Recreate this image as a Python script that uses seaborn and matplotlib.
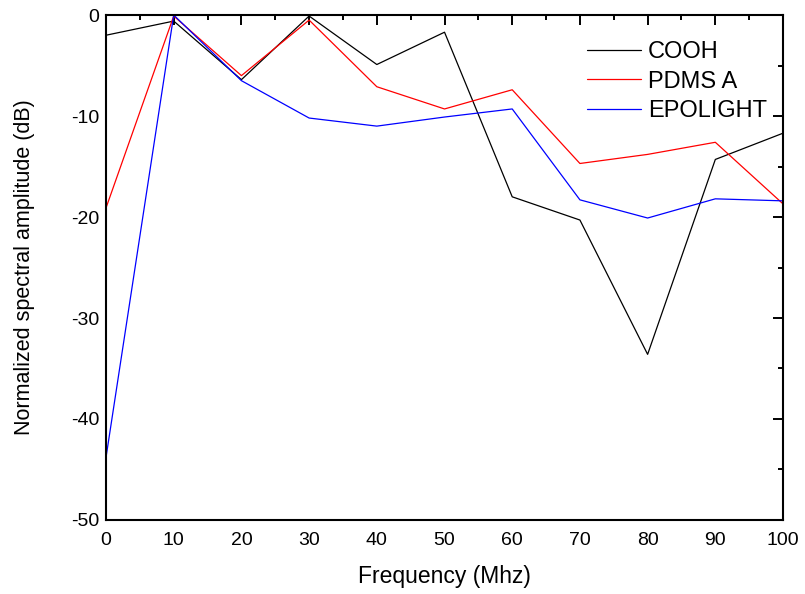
import numpy as np
import pandas as pd
import seaborn as sns
import matplotlib.pyplot as plt
from matplotlib.ticker import MultipleLocator

# values
freq = [0, 10, 20, 30, 40, 50, 60, 70, 80, 90, 100]
cooh = [-2.0, -0.6, -6.4, -0.1, -4.9, -1.7, -18.0, -20.3, -33.6, -14.3, -11.7]
pdms_a = [-19.1, -0.1, -6.0, -0.5, -7.1, -9.3, -7.4, -14.7, -13.8, -12.6, -18.7]
epolight = [-43.8, 0.0, -6.5, -10.2, -11.0, -10.1, -9.3, -18.3, -20.1, -18.2, -18.4]
series_names = ['COOH', 'PDMS A', 'EPOLIGHT']
colors = ['black', 'red', 'blue']

df = pd.DataFrame({
    'freq': freq * 3,
    'amp': cooh + pdms_a + epolight,
    'sample': np.repeat(series_names, len(freq)),
})

sns.set_style('white')
plt.rcParams['font.family'] = ['Liberation Sans', 'DejaVu Sans']
plt.rcParams['axes.unicode_minus'] = False
plt.rcParams['text.color'] = 'black'
plt.rcParams['axes.labelcolor'] = 'black'
plt.rcParams['xtick.color'] = 'black'
plt.rcParams['ytick.color'] = 'black'

fig = plt.figure(figsize=(8.05, 5.94), dpi=100)
ax = fig.add_axes([0.1317, 0.1246, 0.841, 0.8501])

sns.lineplot(data=df, x='freq', y='amp', hue='sample', hue_order=series_names,
             palette=colors, linewidth=0.9, ax=ax)

ax.set_xlim(0, 100)
ax.set_ylim(-50, 0)
ax.xaxis.set_major_locator(MultipleLocator(10))
ax.xaxis.set_minor_locator(MultipleLocator(5))
ax.yaxis.set_major_locator(MultipleLocator(10))
ax.yaxis.set_minor_locator(MultipleLocator(5))
ax.tick_params(which='both', direction='in', top=True, right=True,
               width=1.4, labelsize=14)
ax.tick_params(axis='x', pad=9)
ax.tick_params(axis='y', pad=5)
ax.tick_params(which='major', length=7)
ax.tick_params(which='minor', length=3.5)
for s in ax.spines.values():
    s.set_linewidth(1.5)
    s.set_color('black')

ax.set_xlabel('Frequency (Mhz)', fontsize=16.5, labelpad=11)
ax.set_ylabel('Normalized spectral amplitude (dB)', fontsize=15.5, labelpad=26)

leg = ax.legend(loc='upper right', bbox_to_anchor=(1.015, 1.0), frameon=False,
                fontsize=17, handlelength=2.3, handletextpad=0.3,
                labelspacing=0.32, borderaxespad=0.7)

fig.savefig('out.png', dpi=100)
